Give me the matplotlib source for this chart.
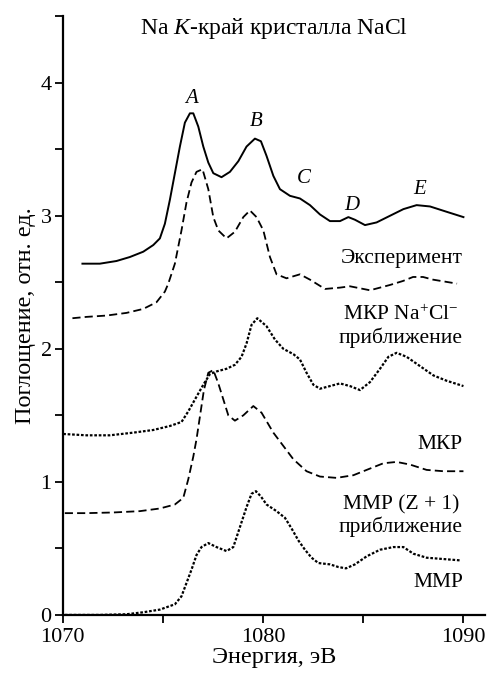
import matplotlib
matplotlib.use("Agg")
import matplotlib.pyplot as plt
from matplotlib.ticker import MultipleLocator

plt.rcParams['font.family'] = ['Liberation Serif', 'DejaVu Serif']
plt.rcParams['mathtext.fontset'] = 'custom'
plt.rcParams['mathtext.rm'] = 'Liberation Serif'
plt.rcParams['mathtext.it'] = 'Liberation Serif:italic'

# Experiment (solid)
exp_e = [1070.98, 1071.85, 1072.68, 1073.35, 1074.02, 1074.52, 1074.85, 1075.1, 1075.35, 1075.6,
         1075.85, 1076.1, 1076.35, 1076.52, 1076.77, 1077.02, 1077.27, 1077.52, 1077.93, 1078.35,
         1078.77, 1079.18, 1079.6, 1079.9, 1080.18, 1080.52, 1080.85, 1081.35, 1081.85, 1082.35,
         1082.85, 1083.35, 1083.85, 1084.27, 1084.6, 1085.1, 1085.68, 1086.35, 1087.02, 1087.68,
         1088.35, 1089.18, 1090.02]
exp_y = [2.64, 2.64, 2.66, 2.69, 2.73, 2.78, 2.83, 2.94, 3.12, 3.32,
         3.52, 3.70, 3.77, 3.77, 3.67, 3.52, 3.40, 3.32, 3.29, 3.33,
         3.41, 3.52, 3.58, 3.56, 3.45, 3.30, 3.20, 3.15, 3.13, 3.08,
         3.01, 2.96, 2.96, 2.99, 2.97, 2.93, 2.95, 3.00, 3.05, 3.08,
         3.07, 3.03, 2.99]

# MKP Na+Cl- (dashed)
ion_e = [1070.48, 1071.18, 1072.18, 1073.18, 1074.02, 1074.68, 1075.1, 1075.27, 1075.6, 1075.93,
         1076.18, 1076.43, 1076.68, 1076.98, 1077.27, 1077.52, 1077.77, 1078.18, 1078.6, 1079.02,
         1079.35, 1079.68, 1080.02, 1080.35, 1080.68, 1081.18, 1081.85, 1082.35, 1083.1, 1083.85,
         1084.35, 1085.35, 1086.35, 1087.0, 1087.5, 1088.0, 1088.5, 1089.7]
ion_y = [2.23, 2.24, 2.25, 2.27, 2.30, 2.35, 2.43, 2.49, 2.64, 2.89,
         3.10, 3.25, 3.33, 3.35, 3.20, 2.99, 2.89, 2.83, 2.88, 2.99,
         3.04, 2.99, 2.89, 2.69, 2.56, 2.53, 2.56, 2.52, 2.45, 2.46,
         2.47, 2.44, 2.48, 2.51, 2.54, 2.54, 2.52, 2.49]

# MKP Na+Cl- approximation (dotted)
apx_e = [1070.02, 1071.18, 1072.35, 1073.52, 1074.52, 1075.35, 1075.93, 1076.27, 1076.68, 1077.02,
         1077.35, 1077.68, 1078.18, 1078.6, 1078.93, 1079.18, 1079.43, 1079.72, 1080.18, 1080.6,
         1081.02, 1081.52, 1081.85, 1082.18, 1082.52, 1082.85, 1083.35, 1083.85, 1084.35, 1084.85,
         1085.35, 1085.85, 1086.27, 1086.68, 1087.18, 1087.85, 1088.52, 1089.18, 1090.02]
apx_y = [1.36, 1.35, 1.35, 1.37, 1.39, 1.42, 1.45, 1.53, 1.64, 1.73,
         1.81, 1.83, 1.85, 1.88, 1.94, 2.04, 2.18, 2.23, 2.17, 2.07,
         2.00, 1.96, 1.92, 1.82, 1.73, 1.70, 1.72, 1.74, 1.72, 1.69,
         1.75, 1.85, 1.94, 1.97, 1.94, 1.87, 1.80, 1.76, 1.72]

# MKP (dashed)
mkp_e = [1070.1, 1071.18, 1072.52, 1073.85, 1074.85, 1075.6, 1076.02, 1076.27, 1076.52, 1076.68,
         1076.85, 1077.05, 1077.27, 1077.52, 1077.77, 1078.02, 1078.27, 1078.6, 1079.02, 1079.52,
         1079.93, 1080.52, 1081.02, 1081.52, 1082.18, 1082.85, 1083.68, 1084.52, 1085.35, 1086.02,
         1086.68, 1087.35, 1088.18, 1089.02, 1090.02]
mkp_y = [0.765, 0.765, 0.77, 0.78, 0.80, 0.83, 0.88, 1.02, 1.19, 1.32,
         1.49, 1.69, 1.82, 1.84, 1.74, 1.62, 1.50, 1.46, 1.50, 1.57,
         1.52, 1.37, 1.27, 1.17, 1.08, 1.04, 1.03, 1.05, 1.10, 1.14,
         1.15, 1.13, 1.09, 1.08, 1.08]

# MMP (dotted)
mmp_e = [1070.1, 1071.85, 1073.18, 1074.02, 1074.85, 1075.6, 1075.93, 1076.18, 1076.43, 1076.68,
         1076.93, 1077.27, 1077.68, 1078.18, 1078.52, 1078.85, 1079.18, 1079.43, 1079.65, 1079.9,
         1080.18, 1080.68, 1081.1, 1081.43, 1081.77, 1082.1, 1082.43, 1082.77, 1083.35, 1083.77,
         1084.15, 1084.6, 1085.18, 1085.85, 1086.52, 1087.02, 1087.52, 1088.18, 1089.02, 1089.85]
mmp_y = [0.0, 0.0, 0.005, 0.02, 0.04, 0.08, 0.14, 0.24, 0.34, 0.45,
         0.51, 0.54, 0.51, 0.48, 0.51, 0.66, 0.81, 0.91, 0.93, 0.89,
         0.83, 0.78, 0.73, 0.65, 0.56, 0.49, 0.43, 0.39, 0.38, 0.36,
         0.35, 0.38, 0.44, 0.49, 0.51, 0.51, 0.46, 0.43, 0.42, 0.41]

labels = ["Эксперимент", "МКР Na$^{+}$Cl$^{-}$\nприближение", "МКР",
          "ММР (Z + 1)\nприближение", "ММР"]
label_y = [2.68, 2.17, 1.28, 0.745, 0.24]
peaks = ["A", "B", "C", "D", "E"]
peak_e = [1076.43, 1079.68, 1082.02, 1084.43, 1087.82]
peak_y = [3.88, 3.71, 3.28, 3.08, 3.20]

fig = plt.figure(figsize=(4.87, 6.75), dpi=100)
ax = fig.add_axes([0.129, 0.089, 0.867, 0.887])

dash = (0, (4.5, 2.3))
dot = (0, (1.2, 0.8))
ax.plot(exp_e, exp_y, color='black', lw=1.4, ls='-')
ax.plot(ion_e, ion_y, color='black', lw=1.3, ls=dash)
ax.plot(apx_e, apx_y, color='black', lw=1.6, ls=dot)
ax.plot(mkp_e, mkp_y, color='black', lw=1.3, ls=dash)
ax.plot(mmp_e, mmp_y, color='black', lw=1.6, ls=dot)

for txt, yy in zip(labels, label_y):
    ax.text(1090.0, yy, txt, ha='right', va='center', fontsize=15.5,
            linespacing=1.15, multialignment='center')
for p, e, yy in zip(peaks, peak_e, peak_y):
    ax.text(e, yy, p, ha='center', va='center', fontsize=15, style='italic')

ax.text(1080.55, 4.41, "Na $K$-край кристалла NaCl", ha='center', va='center', fontsize=17)

ax.set_xlim(1070, 1091.1)
ax.set_ylim(0, 4.5)
ax.xaxis.set_major_locator(MultipleLocator(10))
ax.xaxis.set_minor_locator(MultipleLocator(5))
ax.yaxis.set_major_locator(MultipleLocator(1))
ax.yaxis.set_minor_locator(MultipleLocator(0.5))
ax.tick_params(which='both', direction='out', length=6, width=1.3, labelsize=16)
ax.tick_params(axis='y', pad=2)
for s in ['top', 'right']:
    ax.spines[s].set_visible(False)
for s in ['left', 'bottom']:
    ax.spines[s].set_linewidth(1.6)

ax.set_xlabel("Энергия, эВ", fontsize=17.5, labelpad=0)
ax.set_ylabel("Поглощение, отн. ед.", fontsize=17.5, labelpad=3)

fig.savefig("out.png", dpi=100)
